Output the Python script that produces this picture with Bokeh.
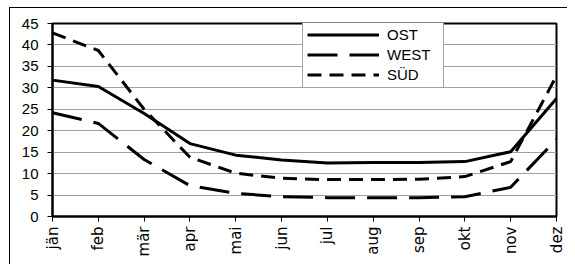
import math
from bokeh.plotting import figure
from bokeh.models import FixedTicker, Legend, LegendItem
from bokeh.embed import file_html
from bokeh.resources import INLINE

months = ["jän", "feb", "mär", "apr", "mai", "jun", "jul", "aug", "sep", "okt", "nov", "dez"]
ost = [31.8, 30.3, 24.0, 17.0, 14.3, 13.2, 12.5, 12.6, 12.6, 12.8, 15.1, 27.5]
west = [24.2, 21.7, 13.3, 7.2, 5.4, 4.6, 4.4, 4.4, 4.4, 4.6, 6.8, 18.0]
sued = [42.8, 38.7, 25.0, 13.8, 10.1, 8.9, 8.6, 8.6, 8.7, 9.3, 12.8, 32.8]
y_ticks = [0, 5, 10, 15, 20, 25, 30, 35, 40, 45]

x = list(range(len(months)))

p = figure(width=567, height=264, output_backend="svg", toolbar_location=None,
           x_range=(0, len(months) - 1), y_range=(0, 45),
           min_border_left=52, min_border_top=23, min_border_right=11, min_border_bottom=48)
# outer chart-area frame (left and top edges visible, as in the original)
p.styles = {
    "background": "linear-gradient(#000, #000) 9px 7px / 1px 100% no-repeat, "
                  "linear-gradient(#000, #000) 9px 7px / 100% 1px no-repeat, #ffffff"
}
p.border_fill_alpha = 0
p.background_fill_color = "white"

p.outline_line_color = "black"
p.outline_line_width = 2
p.xgrid.grid_line_color = None
p.ygrid.grid_line_color = "#a0a0a0"
p.ygrid.grid_line_width = 1

p.yaxis.ticker = FixedTicker(ticks=y_ticks)
p.xaxis.ticker = FixedTicker(ticks=x)
p.xaxis.major_label_overrides = {i: m for i, m in enumerate(months)}
p.xaxis.major_label_orientation = math.pi / 2

for ax in (p.xaxis, p.yaxis):
    ax.axis_line_color = "black"
    ax.axis_line_width = 2
    ax.major_tick_line_color = "black"
    ax.major_tick_line_width = 1
    ax.major_tick_out = 5
    ax.major_tick_in = 0
    ax.minor_tick_line_color = None
    ax.major_label_text_color = "black"
    ax.major_label_text_font = "Liberation Sans"
    ax.major_label_text_font_size = "15px"
p.yaxis.major_label_standoff = 9
p.xaxis.major_label_standoff = 5
p.xaxis.major_label_text_font = "DejaVu Sans"
p.xaxis.major_label_text_font_size = "15px"

r_ost = p.line(x, ost, line_color="black", line_width=3)
r_west = p.line(x, west, line_color="black", line_width=3, line_dash="30 12")
r_sued = p.line(x, sued, line_color="black", line_width=3, line_dash="14 8")

legend = Legend(items=[LegendItem(label="OST", renderers=[r_ost]),
                       LegendItem(label="WEST", renderers=[r_west]),
                       LegendItem(label="SÜD", renderers=[r_sued])],
                location=(250, 128), orientation="vertical",
                padding=4, spacing=3, glyph_width=72, glyph_height=17,
                label_standoff=8, label_height=17, label_width=52,
                label_text_font="Liberation Sans", label_text_font_size="15px",
                label_text_color="black",
                border_line_color="#444444", border_line_width=1,
                background_fill_color="white", background_fill_alpha=1,
                margin=0)
p.add_layout(legend)

open("out.html", "w").write(file_html(p, INLINE))
